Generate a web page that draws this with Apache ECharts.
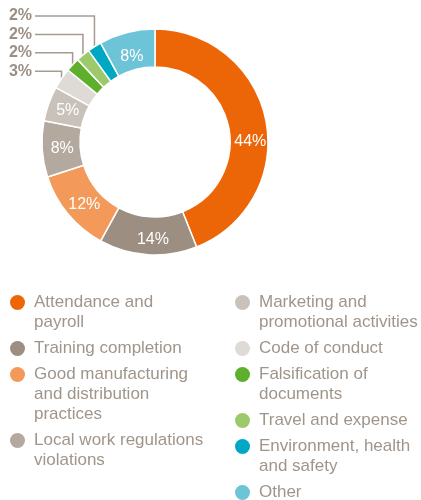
<!DOCTYPE html>
<html><head><meta charset="utf-8">
<script src="https://cdn.jsdelivr.net/npm/echarts@6/dist/echarts.min.js"></script>
<style>html,body{margin:0;padding:0;background:#fff}#c{width:421px;height:500px}</style>
</head><body><div id="c"></div>
<script>
const categories = ['Attendance and payroll','Training completion','Good manufacturing and distribution practices','Local work regulations violations','Marketing and promotional activities','Code of conduct','Falsification of documents','Travel and expense','Environment, health and safety','Other'];
const values = [44,14,12,8,5,3,2,2,2,8];
const colors = ['#EC6608','#9C8E80','#F39A5B','#B3A99F','#C9C2BB','#DEDAD5','#5EAF2B','#9CC96B','#00A8C4','#6EC4D7'];
const legendLines = [['Attendance and','payroll'],['Training completion'],['Good manufacturing','and distribution','practices'],['Local work regulations','violations'],['Marketing and','promotional activities'],['Code of conduct'],['Falsification of','documents'],['Travel and expense'],['Environment, health','and safety'],['Other']];
const leftLegend = categories.slice(0,4);
const rightLegend = categories.slice(4);
const outsideOrder = [8,7,6,5]; // small slices labelled outside, top to bottom

const FONT = '"Liberation Sans", Arial, sans-serif';
const TEXT = '#a0958b';

const rich = {
  t:{fontSize:17,lineHeight:20,color:TEXT,fontFamily:FONT,padding:[0,0,0,9]},
  sp:{width:15,height:15}
};
colors.forEach((c,i)=>{ rich['d'+i] = {width:15,height:15,borderRadius:7.5,backgroundColor:c}; });

function legendFmt(name){
  const i = categories.indexOf(name);
  return legendLines[i].map((l,k)=>(k===0?'{d'+i+'|}':'{sp|}')+'{t|'+l+'}').join('\n');
}
function makeLegend(data,left){
  return {data:data,orient:'vertical',left:left,top:294,padding:0,itemGap:9,
    icon:'none',itemWidth:0,itemHeight:0,selectedMode:false,
    formatter:legendFmt,textStyle:{rich:rich,fontFamily:FONT,fontSize:17,color:TEXT}};
}

const data = categories.map((n,i)=>{
  const d = {name:n,value:values[i],itemStyle:{color:colors[i]}};
  if (outsideOrder.indexOf(i)>=0){
    d.label = {position:'outside',color:'#9b8f84',fontWeight:'bold',fontSize:16,fontFamily:FONT};
    d.labelLine = {show:true,length:5,length2:5,lineStyle:{color:'#a59b91',width:1.5}};
  }
  return d;
});

const chart = echarts.init(document.getElementById('c'),null,{renderer:'canvas'});
chart.setOption({
  animation:false,
  legend:[makeLegend(leftLegend,5),makeLegend(rightLegend,230)],
  series:[{
    type:'pie',center:[155,142],radius:[75,113],startAngle:90,clockwise:true,
    avoidLabelOverlap:false,
    itemStyle:{borderColor:'#fff',borderWidth:1.5},
    label:{show:true,position:'inside',color:'#fff',fontSize:16,fontFamily:FONT,formatter:'{c}%'},
    labelLine:{show:false},
    emphasis:{disabled:true},
    labelLayout:function(p){
      if (p.dataIndex===0) return {dy:18};
      if (p.dataIndex===9) return {dy:9,dx:1};
      const row = outsideOrder.indexOf(p.dataIndex);
      if (row<0) return {dx:4,dy:1};
      const ly = 16 + row*18.4;
      const pts = p.labelLinePoints;
      const sx = pts[0][0], sy = pts[0][1];
      return {x:32,y:ly,align:'right',verticalAlign:'middle',
        labelLinePoints:[[sx,sy+3],[sx,ly],[35,ly]]};
    },
    data:data
  }]
});
</script></body></html>
